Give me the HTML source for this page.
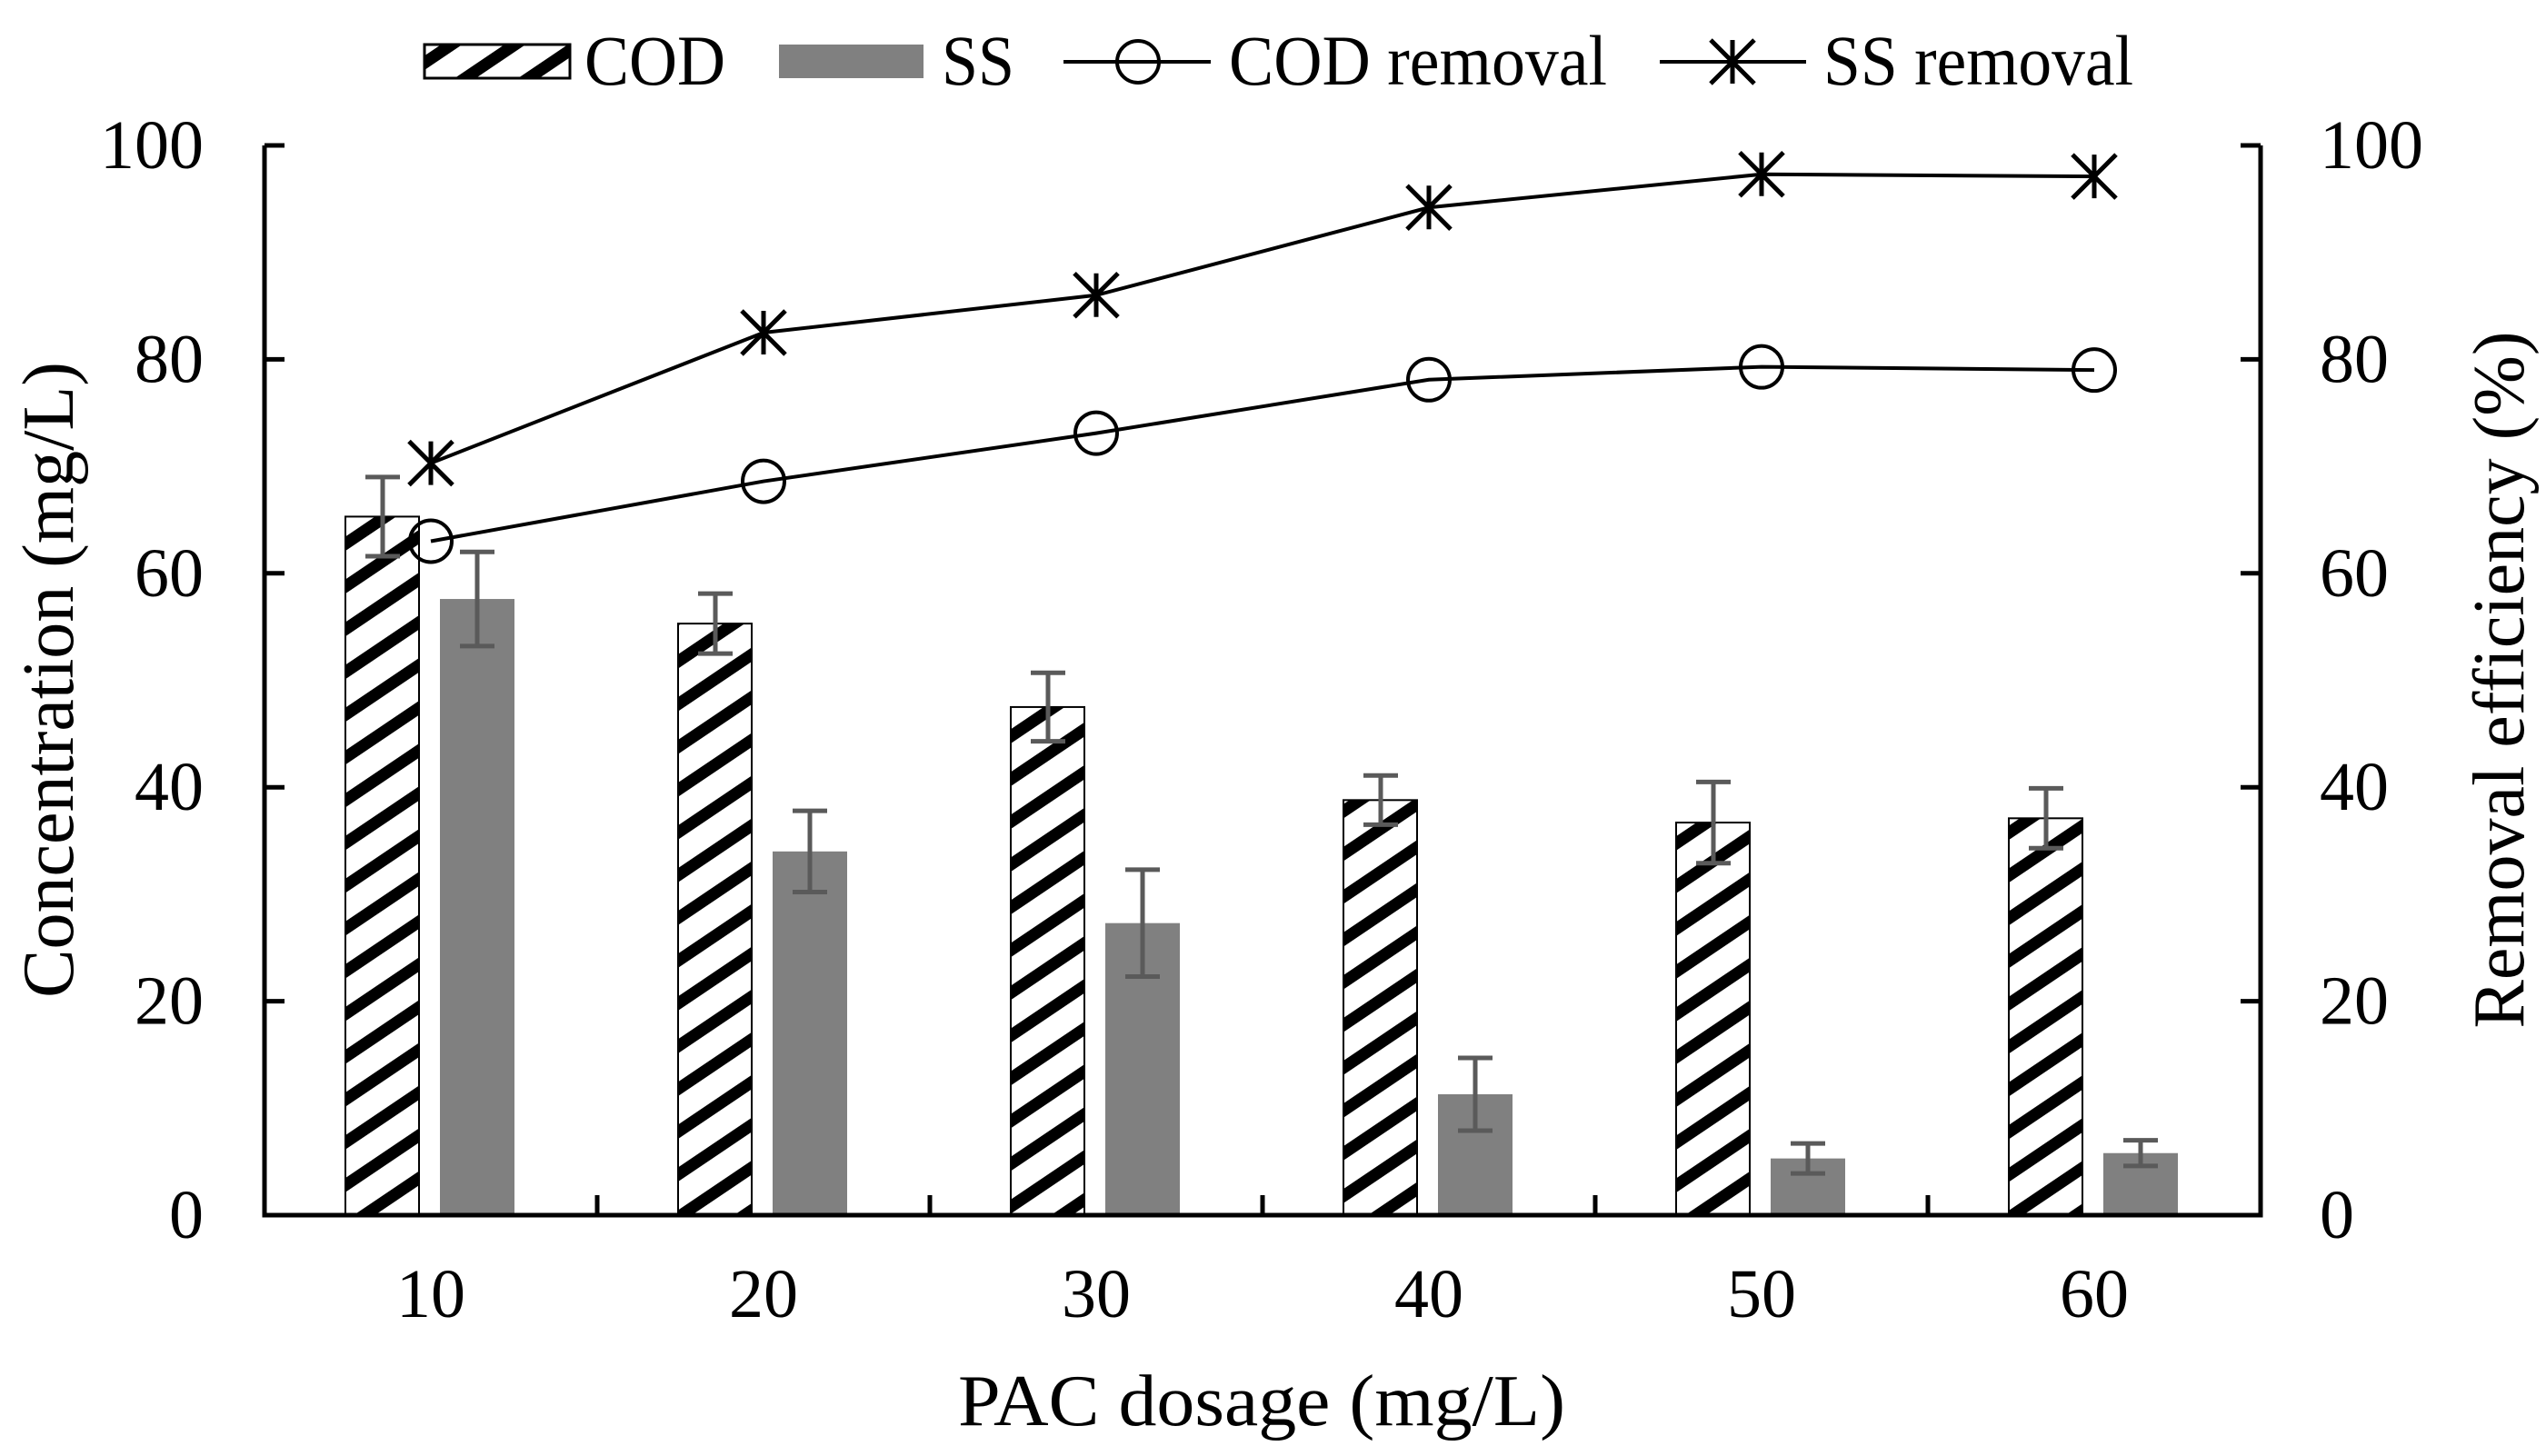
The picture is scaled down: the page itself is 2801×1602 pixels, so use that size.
<!DOCTYPE html>
<html><head><meta charset="utf-8">
<style>
html,body{margin:0;padding:0;background:#fff;}
svg{display:block;}
text{font-family:"Liberation Serif","DejaVu Serif",serif;fill:#000;}
</style></head>
<body>
<svg id="chart" xmlns="http://www.w3.org/2000/svg" width="2801" height="1602" viewBox="0 0 2801 1602">
<defs>
<pattern id="hatch" patternUnits="userSpaceOnUse" width="40" height="39" patternTransform="rotate(-34)">
<rect x="0" y="0" width="40" height="39" fill="#fff"/>
<rect x="0" y="0" width="40" height="13" fill="#000"/>
</pattern>
</defs>
<g id="plot"></g>
</svg>
<script>
const categories = ["10","20","30","40","50","60"];
const codValues = [65.3, 55.3, 47.5, 38.8, 36.7, 37.1];
const codErrors = [3.7, 2.8, 3.2, 2.3, 3.8, 2.8];
const ssValues = [57.6, 34.0, 27.3, 11.3, 5.3, 5.8];
const ssErrors = [4.4, 3.8, 5.0, 3.4, 1.4, 1.2];
const codRemoval = [63.0, 68.6, 73.1, 78.1, 79.3, 79.0];
const ssRemoval = [70.3, 82.5, 86.0, 94.2, 97.3, 97.1];
const leftTicks = [0, 20, 40, 60, 80, 100];
const rightTicks = [0, 20, 40, 60, 80, 100];

const NS = "http://www.w3.org/2000/svg";
const X0 = 291, X1 = 2487, Y0 = 160, Y1 = 1337;
const gw = (X1 - X0) / categories.length;
function xc(i){ return X0 + gw * (i + 0.5); }
function yL(v){ return Y1 - (v / 100) * (Y1 - Y0); }
function yR(v){ return Y1 - (v / 100) * (Y1 - Y0); }
const g = document.getElementById("plot");
function mk(tag, attrs, parent){
  const e = document.createElementNS(NS, tag);
  for (const k in attrs) e.setAttribute(k, attrs[k]);
  (parent || g).appendChild(e);
  return e;
}

categories.forEach((c, i) => {
  const cx = xc(i);
  let b = mk("rect", {x: cx - 94, y: yL(codValues[i]), width: 81, height: Y1 - yL(codValues[i]), fill: "url(#hatch)", stroke: "#000", "stroke-width": 2});
  
  
  let s = mk("rect", {x: cx + 10, y: yL(ssValues[i]), width: 82, height: Y1 - yL(ssValues[i]), fill: "#808080"});
  
  
});
function errBar(x, v, e, name){
  const eg = mk("g", {stroke: "#5a5a5a", "stroke-width": 5, fill: "none"});
  
  
  mk("line", {x1: x, x2: x, y1: yL(v + e), y2: yL(v - e)}, eg);
  mk("line", {x1: x - 19, x2: x + 19, y1: yL(v + e), y2: yL(v + e)}, eg);
  mk("line", {x1: x - 19, x2: x + 19, y1: yL(v - e), y2: yL(v - e)}, eg);
}
categories.forEach((c, i) => {
  errBar(xc(i) - 53, codValues[i], codErrors[i], 'cod-error-bar-' + c);
  errBar(xc(i) + 51, ssValues[i], ssErrors[i], 'ss-error-bar-' + c);
});

const ax = mk("g", {stroke: "#000", "stroke-width": 5, fill: "none"});


mk("polyline", {points: `${X0},${Y0} ${X0},${Y1} ${X1},${Y1} ${X1},${Y0}`}, ax);
leftTicks.forEach(t => { mk("line", {x1: X0, x2: X0 + 22, y1: yL(t), y2: yL(t)}, ax); });
rightTicks.forEach(t => { mk("line", {x1: X1, x2: X1 - 22, y1: yR(t), y2: yR(t)}, ax); });
for (let i = 1; i < categories.length; i++) {
  mk("line", {x1: X0 + gw * i, x2: X0 + gw * i, y1: Y1, y2: Y1 - 22}, ax);
}

function series(vals, name){
  const pts = vals.map((v, i) => `${xc(i)},${yR(v)}`).join(" ");
  const l = mk("polyline", {points: pts, fill: "none", stroke: "#000", "stroke-width": 4});
  
  
}
series(codRemoval, 'cod-removal-line');
series(ssRemoval, 'ss-removal-line');
function circleMarker(x, y, parent){
  return mk("circle", {cx: x, cy: y, r: 23, fill: "none", stroke: "#000", "stroke-width": 4}, parent);
}
function starMarker(x, y, parent){
  const sg = mk("g", {stroke: "#000", "stroke-width": 5}, parent);
  mk("line", {x1: x, x2: x, y1: y - 24, y2: y + 24}, sg);
  mk("line", {x1: x - 24, x2: x + 24, y1: y - 24, y2: y + 24}, sg);
  mk("line", {x1: x - 24, x2: x + 24, y1: y + 24, y2: y - 24}, sg);
  return sg;
}
codRemoval.forEach((v, i) => {
  const m = circleMarker(xc(i), yR(v));
  
  
});
ssRemoval.forEach((v, i) => {
  const m = starMarker(xc(i), yR(v));
  
  
});

function txt(x, y, s, attrs){
  const t = mk("text", Object.assign({x: x, y: y, "font-size": 76}, attrs || {}));
  t.textContent = s;
  return t;
}
leftTicks.forEach(t => {
  const e = txt(224, yL(t) + 25, String(t), {"text-anchor": "end"});
  
  
});
rightTicks.forEach(t => {
  const e = txt(2552, yR(t) + 25, String(t), {"text-anchor": "start"});
  
  
});
categories.forEach((c, i) => {
  const e = txt(xc(i), 1449, c, {"text-anchor": "middle"});
  
  
});

let tt = txt(1054, 1568, "PAC dosage (mg/L)", {"font-size": 80, textLength: 668, lengthAdjust: "spacingAndGlyphs"});


tt = txt(0, 0, "Concentration (mg/L)", {"text-anchor": "middle", "font-size": 80, transform: "translate(80,748) rotate(-90)"});


tt = txt(0, 0, "Removal efficiency (%)", {"text-anchor": "middle", "font-size": 80, transform: "translate(2776,748) rotate(-90)"});



const lg = mk("g", {});


let le = mk("g", {}, lg);


mk("rect", {x: 467, y: 49, width: 160, height: 37, fill: "url(#hatch)", stroke: "#000", "stroke-width": 3}, le);
let lt = mk("text", {x: 643, y: 93, "font-size": 78, textLength: 155, lengthAdjust: "spacingAndGlyphs"}, le); lt.textContent = "COD";
le = mk("g", {}, lg);


mk("rect", {x: 857, y: 49, width: 159, height: 37, fill: "#808080"}, le);
lt = mk("text", {x: 1036, y: 93, "font-size": 78, textLength: 80, lengthAdjust: "spacingAndGlyphs"}, le); lt.textContent = "SS";
le = mk("g", {}, lg);


mk("line", {x1: 1170, x2: 1332, y1: 68, y2: 68, stroke: "#000", "stroke-width": 4}, le);
circleMarker(1252, 68, le);
lt = mk("text", {x: 1352, y: 93, "font-size": 78, textLength: 416, lengthAdjust: "spacingAndGlyphs"}, le); lt.textContent = "COD removal";
le = mk("g", {}, lg);


mk("line", {x1: 1826, x2: 1987, y1: 68, y2: 68, stroke: "#000", "stroke-width": 4}, le);
starMarker(1906, 68, le);
lt = mk("text", {x: 2006, y: 93, "font-size": 78, textLength: 341, lengthAdjust: "spacingAndGlyphs"}, le); lt.textContent = "SS removal";
</script>
</body></html>
